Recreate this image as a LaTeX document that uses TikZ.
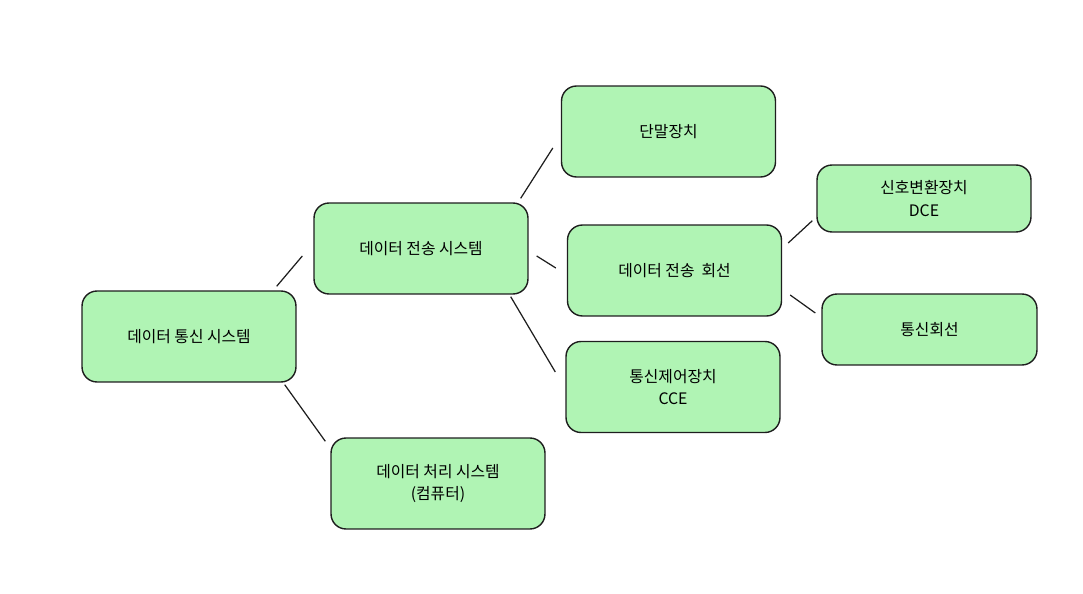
\documentclass[tikz,border=0pt]{standalone}
\usepackage{fontspec}
\setmainfont{Noto Sans CJK KR}
\usepackage{xcolor}
\usetikzlibrary{positioning}

\definecolor{boxgreen}{HTML}{B0F4B4}
\definecolor{inkline}{HTML}{1E1E1E}

\begin{document}
\begin{tikzpicture}[
    x=0.02cm, y=-0.02cm,
    box/.style={rectangle, rounded corners=0.3cm, draw=inkline, line width=0.8pt, fill=boxgreen, minimum width=4.28cm, minimum height=1.82cm, align=center, font=\fontsize{9}{13}\selectfont},
    link/.style={draw=inkline, line width=0.7pt}
]
\useasboundingbox (0,0) rectangle (1083,594);

\node[box] (comm) at (189,336.5) {데이터 통신 시스템};
\node[box] (trans) at (421,248.5) {데이터 전송 시스템};
\node[box] (proc) at (438,483.5) {데이터 처리 시스템\\(컴퓨터)};
\node[box] (term) at (668.5,131.5) {단말장치};
\node[box] (line) at (674.5,270.5) {데이터 전송~~회선};
\node[box] (cce) at (673,387) {통신제어장치\\CCE};
\node[box, minimum height=1.34cm] (dce) at (924,198.5) {신호변환장치\\DCE};
\node[box, minimum height=1.42cm, minimum width=4.3cm] (circ) at (929.5,329.5) {통신회선};

\draw[link] ([shift={(-20,-4)}]comm.north east) -- ([shift={(-11,7.5)}]trans.west);
\draw[link] ([shift={(-12,2)}]comm.south east) -- ([shift={(-5,4)}]proc.north west);
\draw[link] ([shift={(-8,-4)}]trans.north east) -- ([shift={(-8,16.5)}]term.west);
\draw[link] ([shift={(8,7.5)}]trans.east) -- ([shift={(-11,-2.5)}]line.west);
\draw[link] ([shift={(-18,2)}]trans.south east) -- ([shift={(-10,-15)}]cce.west);
\draw[link] ([shift={(6,-27.5)}]line.east) -- ([shift={(-4,-12)}]dce.south west);
\draw[link] ([shift={(8,24.5)}]line.east) -- ([shift={(-6,-16.5)}]circ.west);
\end{tikzpicture}
\end{document}
